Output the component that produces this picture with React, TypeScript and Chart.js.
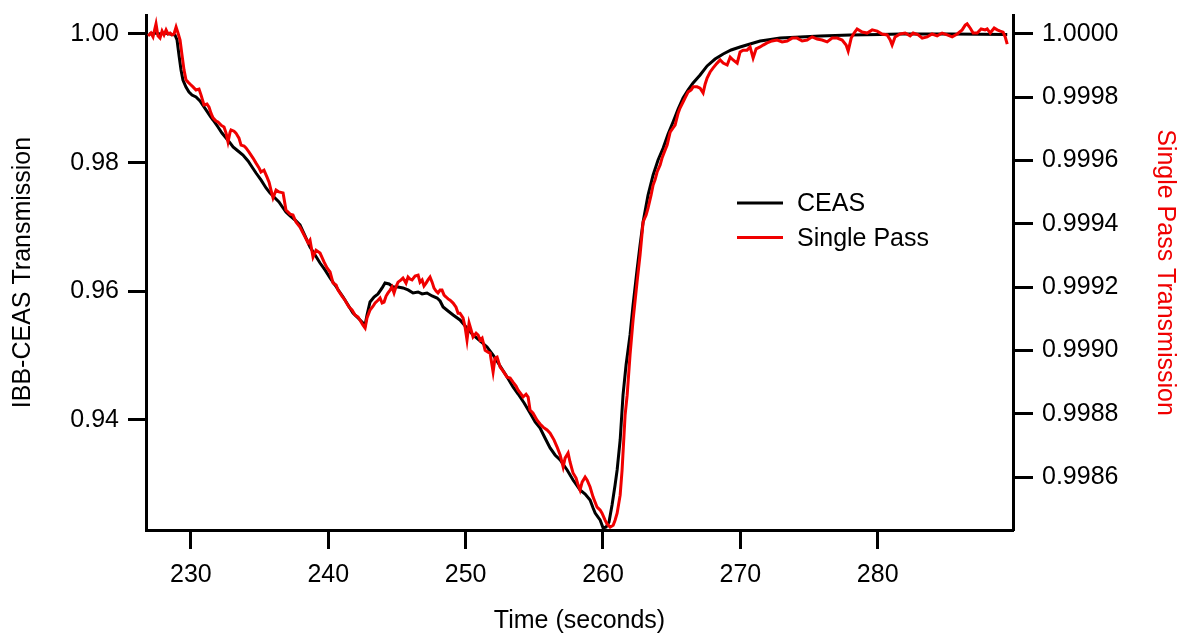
import React, { useEffect, useRef } from 'react';
import { Chart, registerables } from 'chart.js';

Chart.register(...registerables);

const FONT = "'Liberation Sans', Arial, sans-serif";
const RED = '#f00000';

const X_TICKS = [230, 240, 250, 260, 270, 280];
const LEFT_TICKS = [0.94, 0.96, 0.98, 1.0];
const RIGHT_TICKS = [0.9986, 0.9988, 0.999, 0.9992, 0.9994, 0.9996, 0.9998, 1.0];

const X_RANGE = [226.73, 289.85];
const LEFT_RANGE = [0.9229, 1.00295];
const RIGHT_RANGE = [0.998433, 1.00006];

const ceasTime = [
  226.95, 227.39, 227.75, 228.11, 228.48, 228.84, 228.99, 229.13, 229.28, 229.42,
  229.64, 229.86, 230.08, 230.37, 230.66, 231.10, 231.39, 231.61, 231.97, 232.26,
  232.56, 232.85, 233.07, 233.43, 233.79, 234.16, 234.45, 234.74, 235.10, 235.47,
  235.76, 236.12, 236.41, 236.71, 236.92, 237.22, 237.58, 237.94, 238.31, 238.67,
  239.04, 239.40, 239.76, 240.13, 240.49, 240.78, 241.08, 241.44, 241.80, 242.17,
  242.46, 242.68, 242.82, 243.04, 243.33, 243.62, 243.92, 244.13, 244.43, 244.72,
  245.08, 245.44, 245.81, 246.17, 246.54, 246.83, 247.19, 247.56, 247.92, 248.14,
  248.36, 248.72, 249.09, 249.59, 250.03, 250.54, 251.05, 251.56, 252.00, 252.51,
  253.02, 253.45, 253.82, 254.26, 254.69, 255.06, 255.42, 255.78, 256.15, 256.51,
  256.88, 257.39, 257.82, 258.33, 258.70, 259.06, 259.28, 259.43, 259.64, 259.79,
  260.01, 260.23, 260.44, 260.66, 260.88, 261.03, 261.25, 261.46, 261.68, 261.97,
  262.19, 262.48, 262.70, 262.92, 263.28, 263.65, 264.01, 264.38, 264.74, 265.10,
  265.47, 265.83, 266.20, 266.56, 267.07, 267.58, 268.16, 268.75, 269.33, 269.98,
  270.71, 271.44, 271.95, 272.90, 274.35, 275.81, 277.99, 280.18, 281.63, 285.28,
  289.43,
];

const ceasValue = [
  1.0, 1.00016, 1.0, 1.00016, 1.0, 0.99984, 0.99907, 0.99674, 0.9944, 0.99285,
  0.99176, 0.99098, 0.99052, 0.99021, 0.98959, 0.98819, 0.98725, 0.98663, 0.98554, 0.98461,
  0.98383, 0.98306, 0.98244, 0.98181, 0.98119, 0.98026, 0.97933, 0.97839, 0.97731, 0.97606,
  0.97529, 0.97451, 0.97389, 0.97295, 0.97233, 0.97171, 0.97109, 0.97031, 0.9686, 0.96689,
  0.96565, 0.9644, 0.96332, 0.96207, 0.96098, 0.96005, 0.95912, 0.95788, 0.95663, 0.95585,
  0.95523, 0.95477, 0.95632, 0.95834, 0.95912, 0.95959, 0.96052, 0.9613, 0.96114, 0.96067,
  0.96067, 0.96052, 0.96021, 0.95974, 0.9599, 0.95959, 0.95974, 0.95927, 0.95896, 0.9585,
  0.95757, 0.95694, 0.95632, 0.95555, 0.95446, 0.95321, 0.95228, 0.95135, 0.9501, 0.94839,
  0.94668, 0.94513, 0.94404, 0.94264, 0.94109, 0.93969, 0.93876, 0.9372, 0.93565, 0.93456,
  0.93378, 0.93223, 0.93067, 0.92912, 0.9285, 0.92757, 0.92632, 0.92554, 0.92492, 0.92446,
  0.92321, 0.92337, 0.92415, 0.92679, 0.9299, 0.93223, 0.93689, 0.94389, 0.94855, 0.95321,
  0.95788, 0.96332, 0.9672, 0.97078, 0.97497, 0.97808, 0.98041, 0.98228, 0.98446, 0.98632,
  0.98834, 0.99005, 0.9913, 0.99238, 0.99363, 0.99503, 0.99611, 0.99689, 0.99751, 0.99798,
  0.99845, 0.99891, 0.99907, 0.99938, 0.99953, 0.99969, 0.99984, 0.99992, 1.0, 1.0,
  0.99992,
];

const singlePassTime = [
  226.88, 227.09, 227.24, 227.46, 227.60, 227.75, 227.90, 228.04, 228.19, 228.33,
  228.48, 228.62, 228.77, 228.92, 229.06, 229.21, 229.35, 229.50, 229.64, 229.79,
  229.93, 230.15, 230.37, 230.59, 230.74, 230.95, 231.17, 231.32, 231.46, 231.61,
  231.83, 231.97, 232.19, 232.41, 232.56, 232.70, 232.85, 232.92, 233.14, 233.28,
  233.50, 233.65, 233.87, 234.01, 234.23, 234.52, 234.74, 234.96, 235.10, 235.32,
  235.54, 235.69, 235.83, 235.98, 236.20, 236.41, 236.71, 236.92, 237.22, 237.43,
  237.65, 237.94, 238.24, 238.53, 238.67, 238.89, 239.11, 239.40, 239.69, 239.91,
  240.13, 240.35, 240.57, 240.71, 241.00, 241.22, 241.51, 241.73, 241.95, 242.17,
  242.39, 242.53, 242.68, 242.82, 243.04, 243.26, 243.41, 243.62, 243.77, 243.92,
  244.06, 244.21, 244.35, 244.50, 244.64, 244.79, 244.93, 245.08, 245.30, 245.44,
  245.66, 245.81, 245.95, 246.10, 246.32, 246.54, 246.68, 246.83, 246.97, 247.12,
  247.26, 247.41, 247.56, 247.70, 247.85, 247.99, 248.14, 248.28, 248.43, 248.58,
  248.72, 248.87, 249.09, 249.30, 249.45, 249.59, 249.81, 249.96, 250.10, 250.25,
  250.40, 250.54, 250.76, 250.91, 251.05, 251.20, 251.42, 251.63, 251.78, 252.00,
  252.14, 252.29, 252.51, 252.73, 253.02, 253.24, 253.45, 253.67, 253.82, 254.04,
  254.18, 254.40, 254.55, 254.69, 254.91, 255.20, 255.42, 255.64, 255.93, 256.15,
  256.44, 256.66, 256.88, 257.10, 257.24, 257.46, 257.60, 257.82, 258.04, 258.19,
  258.33, 258.48, 258.70, 258.84, 259.06, 259.28, 259.57, 259.79, 259.93, 260.15,
  260.30, 260.52, 260.74, 260.88, 261.03, 261.25, 261.39, 261.61, 261.76, 261.97,
  262.19, 262.48, 262.70, 262.92, 263.14, 263.28, 263.50, 263.65, 263.79, 263.94,
  264.16, 264.30, 264.52, 264.67, 264.89, 265.10, 265.25, 265.47, 265.61, 265.83,
  265.98, 266.20, 266.42, 266.56, 266.85, 267.07, 267.29, 267.44, 267.58, 267.80,
  268.02, 268.31, 268.53, 268.75, 269.04, 269.26, 269.47, 269.77, 269.98, 270.20,
  270.49, 270.71, 270.93, 271.15, 271.44, 271.66, 271.95, 272.31, 272.68, 273.04,
  273.41, 273.77, 274.13, 274.50, 274.86, 275.23, 275.59, 275.95, 276.32, 276.68,
  277.05, 277.41, 277.70, 277.85, 278.07, 278.28, 278.50, 278.87, 279.23, 279.60,
  279.96, 280.32, 280.69, 280.91, 281.05, 281.27, 281.63, 282.00, 282.36, 282.58,
  282.95, 283.24, 283.60, 283.96, 284.33, 284.69, 285.06, 285.42, 285.79, 286.15,
  286.37, 286.51, 286.73, 286.95, 287.24, 287.53, 287.82, 287.97, 288.19, 288.48,
  288.70, 288.92, 289.13, 289.28, 289.43,
];

const singlePassValue = [
  0.999994, 1.000003, 0.999991, 1.000032, 0.999994, 0.999987, 1.000009, 0.999997, 1.000013, 1.0,
  1.000003, 0.999997, 1.0, 1.000022, 1.000003, 0.999981, 0.999934, 0.999886, 0.999855, 0.999848,
  0.999842, 0.999833, 0.999823, 0.999826, 0.999807, 0.999776, 0.999779, 0.999769, 0.99975, 0.999735,
  0.999725, 0.999722, 0.999712, 0.999706, 0.999687, 0.999659, 0.99969, 0.999697, 0.999693, 0.999687,
  0.999671, 0.999649, 0.999646, 0.99964, 0.999627, 0.999608, 0.999592, 0.999577, 0.999564, 0.99957,
  0.999548, 0.999532, 0.999507, 0.999482, 0.999507, 0.999501, 0.999498, 0.999444, 0.999431, 0.999428,
  0.999406, 0.99939, 0.999365, 0.99934, 0.999349, 0.999295, 0.999317, 0.999308, 0.99928, 0.999261,
  0.999248, 0.999213, 0.999207, 0.999191, 0.999172, 0.999159, 0.999137, 0.999128, 0.999112, 0.999106,
  0.99909, 0.99908, 0.999071, 0.999103, 0.999128, 0.99914, 0.99915, 0.999159, 0.999166, 0.99915,
  0.999153, 0.999172, 0.999182, 0.999191, 0.999201, 0.999182, 0.999201, 0.999216, 0.999223, 0.999229,
  0.999213, 0.999232, 0.999226, 0.999223, 0.999235, 0.999238, 0.999216, 0.999223, 0.999204, 0.999213,
  0.999223, 0.999232, 0.999216, 0.999197, 0.999188, 0.999182, 0.999191, 0.999191, 0.999175, 0.999169,
  0.999163, 0.999159, 0.99915, 0.999137, 0.999118, 0.999118, 0.999103, 0.999074, 0.999033, 0.999087,
  0.999065, 0.999043, 0.999055, 0.999049, 0.999033, 0.999039, 0.999001, 0.998995, 0.998992, 0.998932,
  0.998976, 0.998979, 0.998948, 0.998935, 0.998916, 0.998913, 0.9989, 0.998888, 0.998875, 0.998862,
  0.998853, 0.998862, 0.998853, 0.998812, 0.998802, 0.99878, 0.998768, 0.998758, 0.998749, 0.998739,
  0.998717, 0.998695, 0.99867, 0.998632, 0.99866, 0.998676, 0.998648, 0.998613, 0.998597, 0.998575,
  0.998559, 0.998584, 0.9986, 0.998591, 0.998569, 0.998537, 0.998505, 0.998496, 0.998486, 0.998464,
  0.998452, 0.998442, 0.998448, 0.998464, 0.998486, 0.998543, 0.998622, 0.998796, 0.998859, 0.998986,
  0.999096, 0.999216, 0.999302, 0.999406, 0.999428, 0.99945, 0.999491, 0.999523, 0.999539, 0.999564,
  0.999586, 0.999608, 0.999633, 0.999649, 0.99969, 0.999703, 0.999712, 0.99975, 0.999766, 0.999785,
  0.999798, 0.999817, 0.999823, 0.999833, 0.999833, 0.999829, 0.999814, 0.999842, 0.999861, 0.99988,
  0.999893, 0.999908, 0.999918, 0.999908, 0.999902, 0.999927, 0.999918, 0.999908, 0.999943, 0.999949,
  0.999949, 0.999959, 0.999924, 0.999953, 0.999959, 0.999965, 0.999972, 0.999978, 0.999981, 0.999975,
  0.999978, 0.999987, 0.999987, 0.999978, 0.999981, 0.999991, 0.999984, 0.999981, 0.999975, 0.999987,
  0.999987, 0.999981, 0.999965, 0.999946, 0.999987, 1.000003, 1.000016, 1.000006, 1.000003, 1.000013,
  1.000009, 1.0, 0.999997, 0.999981, 0.999965, 0.999991, 1.0, 1.000003, 0.999994, 1.000003,
  0.999997, 0.999987, 0.999991, 1.0, 0.999994, 1.000003, 0.999997, 0.999991, 1.0, 1.000013,
  1.000028, 1.000032, 1.000019, 1.000003, 1.000003, 1.000016, 1.000013, 1.000016, 1.000003, 1.000019,
  1.000013, 1.000009, 1.000006, 0.999991, 0.999968,
];

const toPoints = (xs: number[], ys: number[]) => xs.map((x, i) => ({ x, y: ys[i] }));

const clearPadding = (s: any) => {
  s.paddingTop = 0;
  s.paddingBottom = 0;
  s.paddingLeft = 0;
  s.paddingRight = 0;
};

const legendPlugin = {
  id: 'inPlotLegend',
  afterDraw(chart: any) {
    const { ctx, chartArea } = chart;
    const x0 = chartArea.left + 591;
    const y0 = chartArea.top + 188;
    ctx.save();
    ctx.font = `25px ${FONT}`;
    ctx.textBaseline = 'middle';
    ctx.textAlign = 'left';
    chart.data.datasets.forEach((ds: any, i: number) => {
      const y = y0 + i * 34.5;
      ctx.strokeStyle = ds.borderColor;
      ctx.lineWidth = 3;
      ctx.beginPath();
      ctx.moveTo(x0, y);
      ctx.lineTo(x0 + 46, y);
      ctx.stroke();
      ctx.fillStyle = '#000';
      ctx.fillText(ds.label, x0 + 60, y + 1.5);
    });
    ctx.restore();
  },
};

export default function App() {
  const canvasRef = useRef<HTMLCanvasElement | null>(null);

  useEffect(() => {
    const canvas = canvasRef.current;
    if (!canvas) return;
    const tickFont = { family: FONT, size: 25, lineHeight: 1 };
    const chart = new Chart(canvas, {
      type: 'line',
      data: {
        datasets: [
          {
            label: 'CEAS',
            data: toPoints(ceasTime, ceasValue),
            borderColor: '#000000',
            borderWidth: 3,
            pointRadius: 0,
            yAxisID: 'y',
            order: 1,
          },
          {
            label: 'Single Pass',
            data: toPoints(singlePassTime, singlePassValue),
            borderColor: RED,
            borderWidth: 3,
            pointRadius: 0,
            yAxisID: 'y2',
            order: 0,
          },
        ],
      },
      options: {
        animation: false,
        responsive: false,
        devicePixelRatio: 1,
        layout: { padding: { top: 15, left: 0, right: 0, bottom: 0 } },
        plugins: { legend: { display: false }, tooltip: { enabled: false } },
        scales: {
          x: {
            type: 'linear',
            position: 'bottom',
            min: X_RANGE[0],
            max: X_RANGE[1],
            afterBuildTicks: (s: any) => { s.ticks = X_TICKS.map((v) => ({ value: v })); },
            afterFit: (s: any) => { s.height = 104; clearPadding(s); },
            grid: { drawOnChartArea: false, drawTicks: true, tickLength: 19, tickWidth: 3, tickColor: '#000' },
            border: { display: true, width: 3, color: '#000' },
            ticks: { font: tickFont, color: '#000', padding: 14, maxRotation: 0, callback: (v: any) => String(v) },
            title: { display: true, text: 'Time (seconds)', color: '#000', font: { family: FONT, size: 25, lineHeight: 1 }, padding: { top: 0, bottom: 0 } },
          },
          y: {
            type: 'linear',
            position: 'left',
            min: LEFT_RANGE[0],
            max: LEFT_RANGE[1],
            afterBuildTicks: (s: any) => { s.ticks = LEFT_TICKS.map((v) => ({ value: v })); },
            afterFit: (s: any) => { s.width = 146; clearPadding(s); },
            grid: { drawOnChartArea: false, drawTicks: true, tickLength: 18, tickWidth: 3, tickColor: '#000' },
            border: { display: true, width: 3, color: '#000' },
            ticks: { font: tickFont, color: '#000', padding: 9, callback: (v: any) => Number(v).toFixed(2) },
            title: { display: true, text: 'IBB-CEAS Transmission', color: '#000', font: { family: FONT, size: 25, lineHeight: 1 }, padding: { top: 11, bottom: 0 } },
          },
          y2: {
            type: 'linear',
            position: 'right',
            min: RIGHT_RANGE[0],
            max: RIGHT_RANGE[1],
            afterBuildTicks: (s: any) => { s.ticks = RIGHT_TICKS.map((v) => ({ value: v })); },
            afterFit: (s: any) => { s.width = 165; clearPadding(s); },
            grid: { drawOnChartArea: false, drawTicks: true, tickLength: 20, tickWidth: 3, tickColor: '#000' },
            border: { display: true, width: 3, color: '#000' },
            ticks: { font: tickFont, color: '#000', padding: 9, callback: (v: any) => Number(v).toFixed(4) },
            title: { display: true, text: 'Single Pass Transmission', color: RED, font: { family: FONT, size: 25, lineHeight: 1 }, padding: { top: 1, bottom: 0 } },
          },
        },
      },
      plugins: [legendPlugin],
    } as any);
    return () => chart.destroy();
  }, []);

  return (
    <div style={{ position: 'fixed', left: 0, top: 0, width: 1178, height: 634, background: '#fff' }}>
      <canvas ref={canvasRef} width={1178} height={634} style={{ display: 'block', width: 1178, height: 634 }} />
    </div>
  );
}
